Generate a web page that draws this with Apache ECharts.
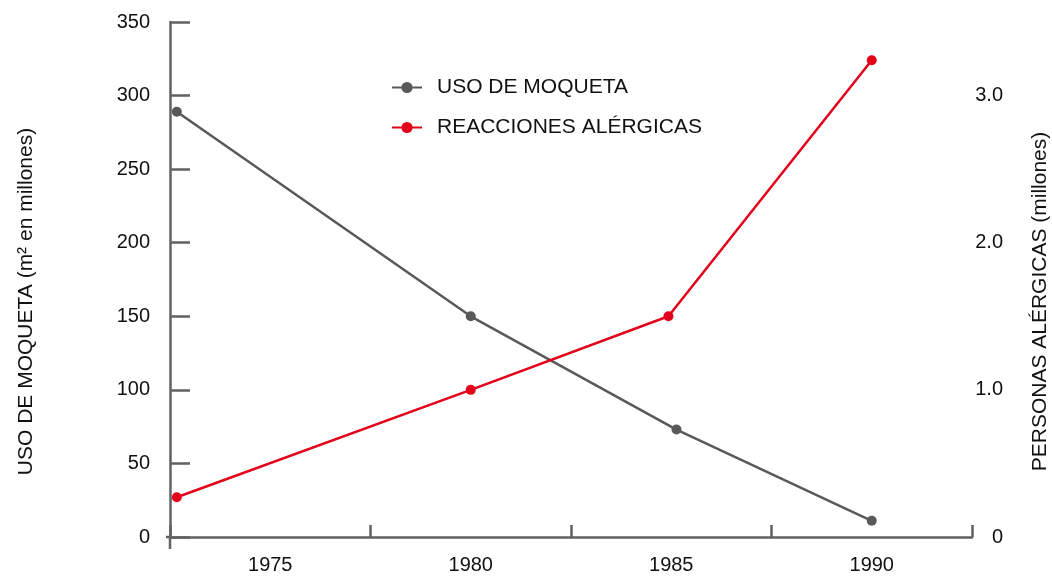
<!DOCTYPE html>
<html>
<head>
<meta charset="utf-8">
<script src="https://cdn.jsdelivr.net/npm/echarts@6/dist/echarts.min.js"></script>
<style>
html,body{margin:0;padding:0;background:#fff;overflow:hidden;}
#c{width:1052px;height:576px;}
</style>
</head>
<body>
<div id="c"></div>
<script>
// Data
const yearLabels = ['1975', '1980', '1985', '1990'];
const carpetYears = [1972.67, 1980, 1985.13, 1990];
const carpetValues = [289, 150, 73, 11];
const allergyYears = [1972.67, 1980, 1984.93, 1990];
const allergyValues = [0.27, 1.0, 1.5, 3.24];
const leftTicks = [0, 50, 100, 150, 200, 250, 300, 350];
const seriesNames = ['USO DE MOQUETA', 'REACCIONES ALÉRGICAS'];

const FONT = '"Liberation Sans", Arial, sans-serif';
const AXIS = '#626262';
const GRAY = '#595959';
const RED = '#e2001a';
const FS = 21;

const chart = echarts.init(document.getElementById('c'), null, {renderer: 'canvas', width: 1052, height: 576});

const option = {
  animation: false,
  backgroundColor: '#fff',
  textStyle: {fontFamily: FONT},
  grid: {left: 170, width: 802, top: 22, height: 515, containLabel: false, outerBoundsMode: 'none'},
  legend: {
    orient: 'vertical',
    left: 386,
    top: 72,
    itemGap: 19,
    itemWidth: 30,
    itemHeight: 14,
    textStyle: {fontFamily: FONT, fontSize: FS, color: '#111', padding: [0, 0, 0, 10]},
    data: seriesNames
  },
  xAxis: [
    {
      type: 'category',
      data: yearLabels,
      boundaryGap: true,
      position: 'bottom',
      axisLine: {show: true, lineStyle: {color: AXIS, width: 2.5}},
      axisTick: {show: true, inside: true, length: 12, interval: 0, lineStyle: {color: AXIS, width: 2.5}},
      axisLabel: {fontFamily: FONT, fontSize: FS - 1, color: '#111', margin: 18},
      splitLine: {show: false}
    },
    {
      type: 'value',
      min: 1972.5,
      max: 1992.5,
      show: false
    }
  ],
  yAxis: [
    {
      type: 'value',
      min: leftTicks[0],
      max: leftTicks[leftTicks.length - 1],
      interval: 50,
      position: 'left',
      name: 'USO DE MOQUETA (m² en millones)',
      nameLocation: 'middle',
      nameRotate: 90,
      nameGap: 133,
      nameTextStyle: {fontFamily: FONT, fontSize: FS, color: '#111', padding: [0, 44, 0, 0]},
      axisLine: {show: true, lineStyle: {color: AXIS, width: 2.5}},
      axisTick: {show: true, inside: true, length: 20, lineStyle: {color: AXIS, width: 2.5}},
      axisLabel: {fontFamily: FONT, fontSize: FS - 1, color: '#111', margin: 20},
      splitLine: {show: false}
    },
    {
      type: 'value',
      min: 0,
      max: 3.5,
      interval: 1,
      position: 'right',
      name: 'PERSONAS ALÉRGICAS (millones)',
      nameLocation: 'middle',
      nameRotate: 90,
      nameGap: 58,
      nameTextStyle: {fontFamily: FONT, fontSize: FS, color: '#111', padding: [0, 44, 0, 0]},
      axisLine: {show: false},
      axisTick: {show: false},
      axisLabel: {
        fontFamily: FONT, fontSize: FS - 1, color: '#111', margin: 31, align: 'right',
        showMaxLabel: false,
        formatter: function (v) { return v === 0 ? '0' : v.toFixed(1); }
      },
      splitLine: {show: false}
    }
  ],
  series: [
    {
      name: seriesNames[0],
      type: 'line',
      xAxisIndex: 1,
      yAxisIndex: 0,
      data: carpetYears.map((y, i) => [y, carpetValues[i]]),
      symbol: 'circle',
      symbolSize: 10,
      showSymbol: true,
      lineStyle: {color: GRAY, width: 2.5},
      itemStyle: {color: GRAY},
      z: 3
    },
    {
      name: seriesNames[1],
      type: 'line',
      xAxisIndex: 1,
      yAxisIndex: 1,
      data: allergyYears.map((y, i) => [y, allergyValues[i]]),
      symbol: 'circle',
      symbolSize: 10,
      showSymbol: true,
      lineStyle: {color: RED, width: 2.5},
      itemStyle: {color: RED},
      z: 4
    }
  ]
};

chart.setOption(option);

// small axis extensions (y axis below zero, x axis left of y axis)
const o = chart.convertToPixel({xAxisIndex: 1, yAxisIndex: 0}, [1972.5, 0]);
chart.setOption({
  graphic: [
    {type: 'line', shape: {x1: o[0], y1: o[1], x2: o[0], y2: o[1] + 12}, style: {stroke: AXIS, lineWidth: 2.5}, z: 10},
    {type: 'line', shape: {x1: o[0] - 4, y1: o[1], x2: o[0], y2: o[1]}, style: {stroke: AXIS, lineWidth: 2.5}, z: 10}
  ]
});
</script>
</body>
</html>
